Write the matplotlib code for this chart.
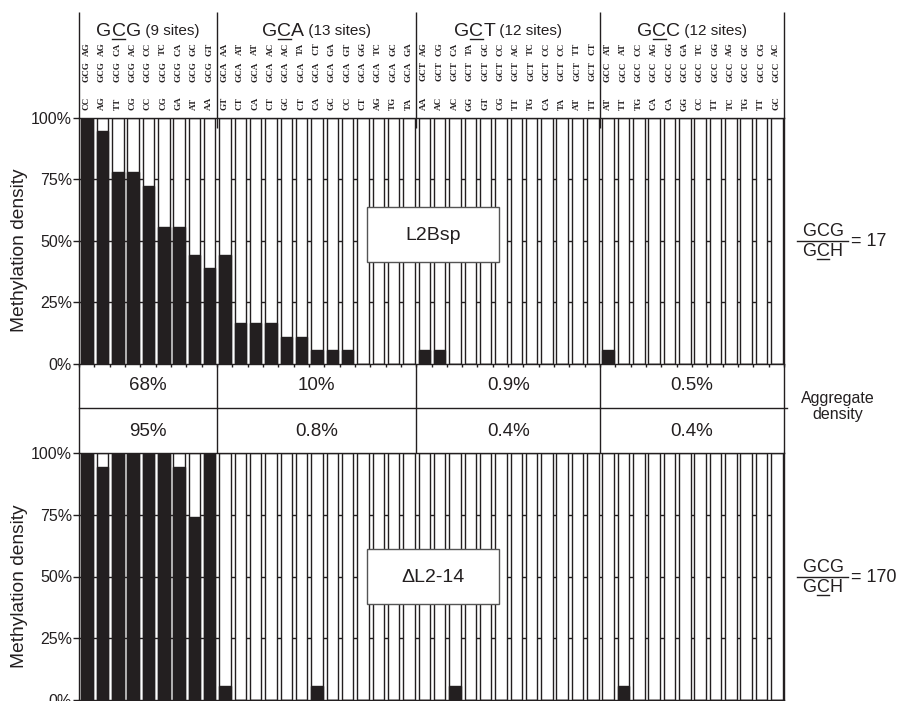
import numpy as np
import matplotlib
matplotlib.use("Agg")
import matplotlib.pyplot as plt
from matplotlib.patches import Rectangle
from matplotlib.transforms import blended_transform_factory

plt.rcParams['font.family'] = ['Liberation Sans', 'DejaVu Sans']

# ---------------- data ----------------
groups = ["GCG", "GCA", "GCT", "GCC"]
group_sites = [9, 13, 12, 12]
left_flank = ["CC", "AG", "TT", "CG", "CC", "CG", "GA", "AT", "AA",
              "GT", "CT", "CA", "CT", "GC", "CT", "CA", "GC", "CC", "CT", "AG", "TG", "TA",
              "AA", "AC", "AC", "GG", "GT", "CG", "TT", "TG", "CA", "TA", "AT", "TT",
              "AT", "TT", "TG", "CA", "CA", "GG", "CC", "TT", "TC", "TG", "TT", "GC"]
right_flank = ["AG", "AG", "CA", "AC", "CC", "TC", "CA", "GC", "GT",
               "AA", "AT", "AT", "AC", "AC", "TA", "CT", "GA", "GT", "GG", "TC", "GC", "GA",
               "AG", "CG", "CA", "TA", "GC", "CC", "AC", "TC", "CC", "CC", "TT", "CT",
               "AT", "AT", "CC", "AG", "GG", "GA", "TC", "GG", "AG", "GC", "CG", "AC"]
site_core = (["GCG"] * 9 + ["GCA"] * 13 + ["GCT"] * 12 + ["GCC"] * 12)

top_values = [100, 94.4, 77.8, 77.8, 72.2, 55.6, 55.6, 44.4, 38.9,
              44.4, 16.7, 16.7, 16.7, 11.1, 11.1, 5.6, 5.6, 5.6, 0, 0, 0, 0,
              5.6, 5.6, 0, 0, 0, 0, 0, 0, 0, 0, 0, 0,
              5.6, 0, 0, 0, 0, 0, 0, 0, 0, 0, 0, 0]
bottom_values = [100, 94.4, 100, 100, 100, 100, 94.4, 74, 100,
                 5.6, 0, 0, 0, 0, 0, 5.6, 0, 0, 0, 0, 0, 0,
                 0, 0, 5.6, 0, 0, 0, 0, 0, 0, 0, 0, 0,
                 0, 5.6, 0, 0, 0, 0, 0, 0, 0, 0, 0, 0]
top_aggregate = ["68%", "10%", "0.9%", "0.5%"]
bottom_aggregate = ["95%", "0.8%", "0.4%", "0.4%"]
top_name = "L2Bsp"
bottom_name = "\u0394L2-14"
top_ratio = "17"
bottom_ratio = "170"
yticks = [0, 25, 50, 75, 100]
ytick_labels = ["0%", "25%", "50%", "75%", "100%"]

# ---------------- layout ----------------
W, H = 901, 701
INK = "#231f20"
fig = plt.figure(figsize=(W / 100, H / 100), dpi=100)


def fx(px):
    return px / W


def fy(py):
    return 1 - py / H


L, R = 79, 784
TOP1, BOT1 = 117.7, 364
TOP2, BOT2 = 453, 700

ax1 = fig.add_axes([fx(L), fy(BOT1), (R - L) / W, (BOT1 - TOP1) / H])
ax2 = fig.add_axes([fx(L), fy(BOT2), (R - L) / W, (BOT2 - TOP2) / H])
ax0 = fig.add_axes([0, 0, 1, 1], zorder=10)
ax0.set_xlim(0, W)
ax0.set_ylim(H, 0)
ax0.axis("off")
ax0.patch.set_alpha(0)

n = len(top_values)
xpos = np.arange(n) + 0.53
for ax, vals in ((ax1, top_values), (ax2, bottom_values)):
    ax.set_xlim(0, n)
    ax.set_ylim(0, 100)
    for g in (25, 50, 75):
        ax.axhline(g, color=INK, lw=1.0, zorder=1)
    ax.bar(xpos, [100] * n, width=0.75, color="white", edgecolor=INK, linewidth=1.0, zorder=2)
    ax.bar(xpos, vals, width=0.75, color=INK, edgecolor=INK, linewidth=1.0, zorder=3)
    ax.set_yticks(yticks)
    ax.set_yticklabels(ytick_labels)
    ax.tick_params(axis="y", direction="out", length=4, width=1, pad=1,
                   labelsize=11.5, colors=INK)
    for s in ax.spines.values():
        s.set_color(INK)
        s.set_linewidth(1.0)
        s.set_zorder(5)

ax1.set_xticks(np.arange(n + 1))
ax1.set_xticklabels([])
ax1.tick_params(axis="x", direction="out", length=2, width=1, colors=INK)
ax2.set_xticks([])

# boundaries of groups (in data units)
bounds = np.concatenate([[0], np.cumsum(group_sites)])
btrans = blended_transform_factory(ax1.transData, ax0.transData)

# header lines
for i, b in enumerate(bounds):
    ybot = 128 if 0 < i < len(bounds) - 1 else TOP1
    ax0.plot([b, b], [12, ybot], color=INK, lw=1.0, transform=btrans, solid_capstyle="butt")
    ax0.plot([b, b], [BOT1, TOP2], color=INK, lw=1.0, transform=btrans, solid_capstyle="butt")

# aggregate table middle line
ax0.plot([L, 787], [408, 408], color=INK, lw=1.0)

renderer = fig.canvas.get_renderer()


def twidth(s, size, **kw):
    t = ax0.text(0, 0, s, fontsize=size, **kw)
    w = t.get_window_extent(renderer).width
    t.remove()
    return w


def pieces_text(xc, ybase, pieces, ul_off=2.8):
    widths = [twidth(s, sz) for s, sz, _ in pieces]
    x = xc - sum(widths) / 2
    for (s, sz, ul), w in zip(pieces, widths):
        ax0.text(x, ybase, s, fontsize=sz, ha="left", va="baseline", color=INK)
        if ul:
            ax0.plot([x + 0.5, x + w - 0.5], [ybase + ul_off, ybase + ul_off], color=INK, lw=1.0)
        x += w


# group titles
for gi, g in enumerate(groups):
    b0, b1 = bounds[gi], bounds[gi + 1]
    xc_data = (b0 + b1) / 2
    xc = ax0.transData.inverted().transform(ax1.transData.transform((xc_data, 0)))[0]
    pieces_text(xc, 35.5, [(g[0], 14, False), (g[1], 14, True), (g[2], 14, False),
                           (" (%d sites)" % group_sites[gi], 11, False)], ul_off=3)

# site labels
lab_kw = dict(rotation=90, ha="center", va="center", fontsize=6.6, fontweight="bold",
              family=["Liberation Serif", "DejaVu Serif"], color=INK, transform=btrans)
for i in range(n):
    xi = i + 0.5
    ax0.text(xi, 103.5, left_flank[i], **lab_kw)
    ax0.text(xi, 71.5, site_core[i], **lab_kw)
    ax0.text(xi, 49.0, right_flank[i], **lab_kw)

# aggregate numbers
for gi in range(len(groups)):
    xc_data = (bounds[gi] + bounds[gi + 1]) / 2
    ax0.text(xc_data, 386, top_aggregate[gi], fontsize=13.5, ha="center", va="center",
             color=INK, transform=btrans)
    ax0.text(xc_data, 431.5, bottom_aggregate[gi], fontsize=13.5, ha="center", va="center",
             color=INK, transform=btrans)

ax0.text(838, 398, "Aggregate", fontsize=11.5, ha="center", va="center", color=INK)
ax0.text(838, 415, "density", fontsize=11.5, ha="center", va="center", color=INK)

# y labels
ax0.text(20, 250, "Methylation density", rotation=90, fontsize=13.8, ha="center",
         va="center", color=INK)
ax0.text(20, 586, "Methylation density", rotation=90, fontsize=13.8, ha="center",
         va="center", color=INK)

# sample boxes
for (y0, name) in ((207, top_name), (549, bottom_name)):
    ax0.add_patch(Rectangle((367, y0), 132, 55, facecolor="white", edgecolor="#555555",
                            lw=1.0, zorder=3))
    ax0.text(433, y0 + 28, name, fontsize=14, ha="center", va="center", color=INK, zorder=4)

# ratios
for yc, val in ((241, top_ratio), (577, bottom_ratio)):
    ax0.plot([797, 848], [yc, yc], color=INK, lw=1.0)
    pieces_text(822.5, yc - 5, [("G", 13, False), ("C", 13, False), ("G", 13, False)])
    pieces_text(822.5, yc + 15.5, [("G", 13, False), ("C", 13, True), ("H", 13, False)])
    ax0.text(851, yc, "= " + val, fontsize=13, ha="left", va="center", color=INK)

fig.savefig("out.png", dpi=100)
